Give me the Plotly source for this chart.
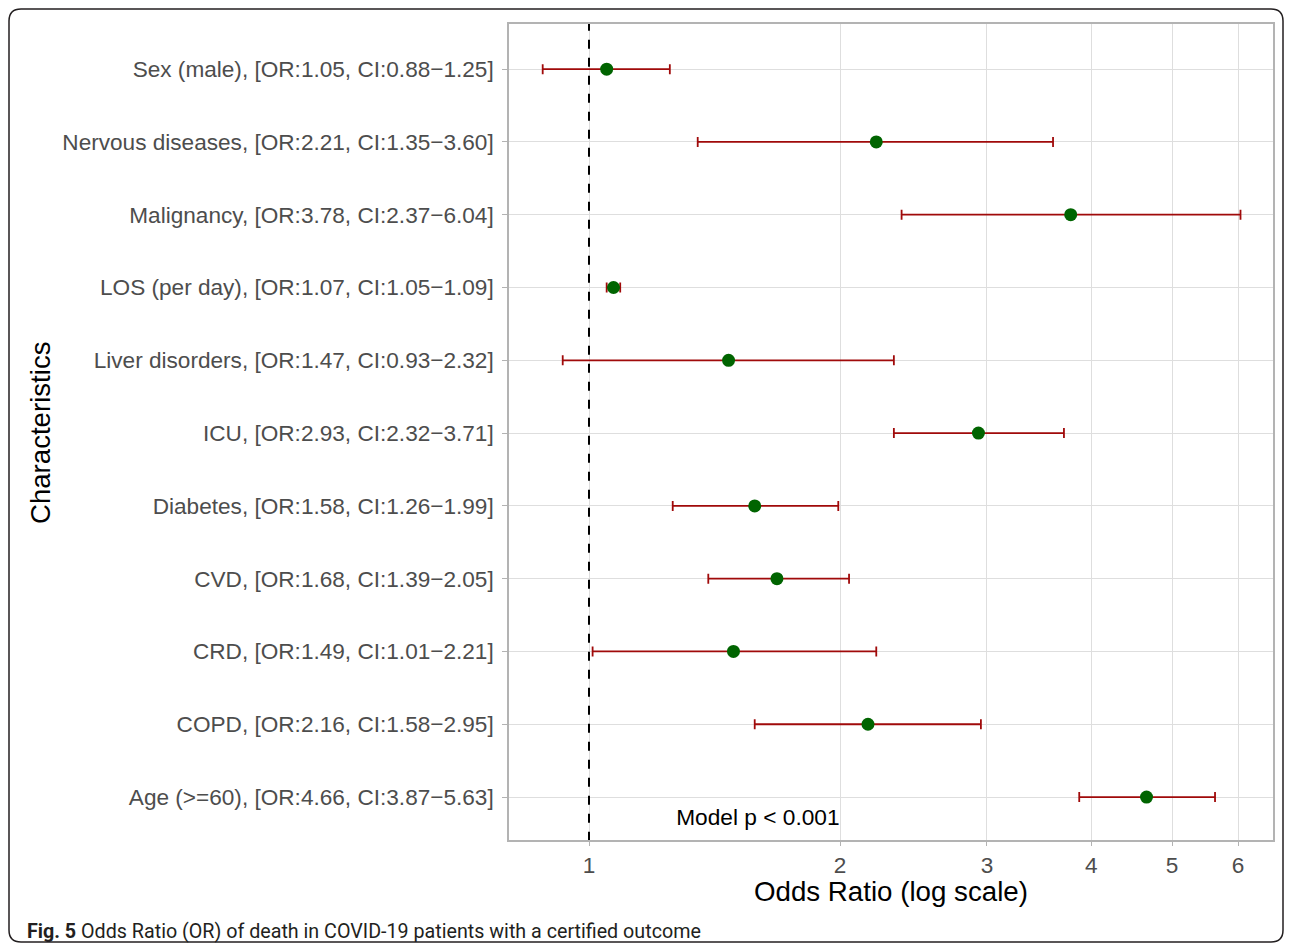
import plotly.graph_objects as go

# ---- data (top to bottom as displayed) ----
names = ["Sex (male)", "Nervous diseases", "Malignancy", "LOS (per day)",
         "Liver disorders", "ICU", "Diabetes", "CVD", "CRD", "COPD", "Age (>=60)"]
odds = [1.05, 2.21, 3.78, 1.07, 1.47, 2.93, 1.58, 1.68, 1.49, 2.16, 4.66]
ci_low = [0.88, 1.35, 2.37, 1.05, 0.93, 2.32, 1.26, 1.39, 1.01, 1.58, 3.87]
ci_high = [1.25, 3.60, 6.04, 1.09, 2.32, 3.71, 1.99, 2.05, 2.21, 2.95, 5.63]
x_ticks = [1, 2, 3, 4, 5, 6]
model_note = "Model p < 0.001"
caption_bold = "Fig. 5"
caption_text = "Odds Ratio (OR) of death in COVID-19 patients with a certified outcome"

n = len(names)
ypos = [n - 1 - i for i in range(n)]
labels = [f"{nm}, [OR:{o:.2f}, CI:{l:.2f}\u2212{h:.2f}]"
          for nm, o, l, h in zip(names, odds, ci_low, ci_high)]

OFF = 8  # page body margin
W, H = 1292 - OFF, 951 - 2 * OFF
PLOT_BOTTOM = 840
ML, MR, MT = 509 - OFF, 19, 24 - OFF
MB = (H + OFF) - PLOT_BOTTOM
PW, PH = W - ML - MR, H - MT - MB

def px(xp):
    return (xp - OFF - ML) / PW

def py(yp):
    return (H - MB - (yp - OFF)) / PH

SANS = "Liberation Sans, Arial, Helvetica, sans-serif"

fig = go.Figure()

# reference line at OR = 1
fig.add_trace(go.Scatter(
    x=[1, 1], y=[-0.6, n - 0.38], mode="lines",
    line=dict(color="black", width=2, dash="dash"),
    hoverinfo="skip", showlegend=False))

# error bars + points
fig.add_trace(go.Scatter(
    x=odds, y=ypos, mode="markers",
    marker=dict(color="#006400", size=13),
    error_x=dict(type="data", symmetric=False,
                 array=[h - o for o, h in zip(odds, ci_high)],
                 arrayminus=[o - l for o, l in zip(odds, ci_low)],
                 color="#a00a0a", thickness=1.8, width=5),
    showlegend=False))

# model note
fig.add_trace(go.Scatter(
    x=[1.594], y=[-0.30], mode="text", text=[model_note],
    textfont=dict(family=SANS, size=22.7, color="black"),
    textposition="middle center", hoverinfo="skip", showlegend=False))

fig.update_layout(
    width=W, height=H,
    margin=dict(l=ML, r=MR, t=MT, b=MB, pad=0),
    paper_bgcolor="white", plot_bgcolor="white",
    font=dict(family=SANS),
    xaxis=dict(
        type="log", range=[-0.0959, 0.820],
        tickvals=x_ticks, ticktext=[str(t) for t in x_ticks],
        tickfont=dict(size=22.6, color="#4d4d4d"),
        ticks="outside", ticklen=4, tickcolor="#b3b3b3",
        showgrid=True, gridcolor="#dedede", gridwidth=1,
        showline=True, linecolor="#b3b3b3", linewidth=1.5, mirror=True,
        zeroline=False),
    yaxis=dict(
        range=[-0.59, n - 1 + 0.62],
        tickvals=ypos, ticktext=labels,
        tickfont=dict(size=22.6, color="#4d4d4d"),
        ticks="outside", ticklen=5, tickcolor="#b3b3b3",
        ticklabelstandoff=4,
        showgrid=True, gridcolor="#dedede", gridwidth=1,
        showline=True, linecolor="#b3b3b3", linewidth=1.5, mirror=True,
        zeroline=False),
    annotations=[
        dict(text="Odds Ratio (log scale)", xref="paper", yref="paper",
             x=px(891), y=py(891), showarrow=False,
             font=dict(size=27.7, color="black", family=SANS),
             xanchor="center", yanchor="middle"),
        dict(text="Characteristics", xref="paper", yref="paper",
             x=px(40), y=py(433), showarrow=False, textangle=-90,
             font=dict(size=27.6, color="black", family=SANS),
             xanchor="center", yanchor="middle"),
        dict(text=f"<b>{caption_bold}</b> {caption_text}", xref="paper", yref="paper",
             x=px(25), y=py(931), showarrow=False,
             font=dict(size=19.7, color="#231f20", family="Roboto, sans-serif"),
             xanchor="left", yanchor="middle"),
    ],
)

# outer rounded frame
x0, x1, y0, y1, r = 9, 1283, 9, H + OFF - 1, 12
path = (f"M {px(x0+r)} {py(y0)} L {px(x1-r)} {py(y0)} "
        f"Q {px(x1)} {py(y0)} {px(x1)} {py(y0+r)} "
        f"L {px(x1)} {py(y1-r)} Q {px(x1)} {py(y1)} {px(x1-r)} {py(y1)} "
        f"L {px(x0+r)} {py(y1)} Q {px(x0)} {py(y1)} {px(x0)} {py(y1-r)} "
        f"L {px(x0)} {py(y0+r)} Q {px(x0)} {py(y0)} {px(x0+r)} {py(y0)} Z")
fig.add_shape(type="path", path=path, xref="paper", yref="paper",
              line=dict(color="#231f20", width=1.5), layer="above")

fig.write_html("out.html")
